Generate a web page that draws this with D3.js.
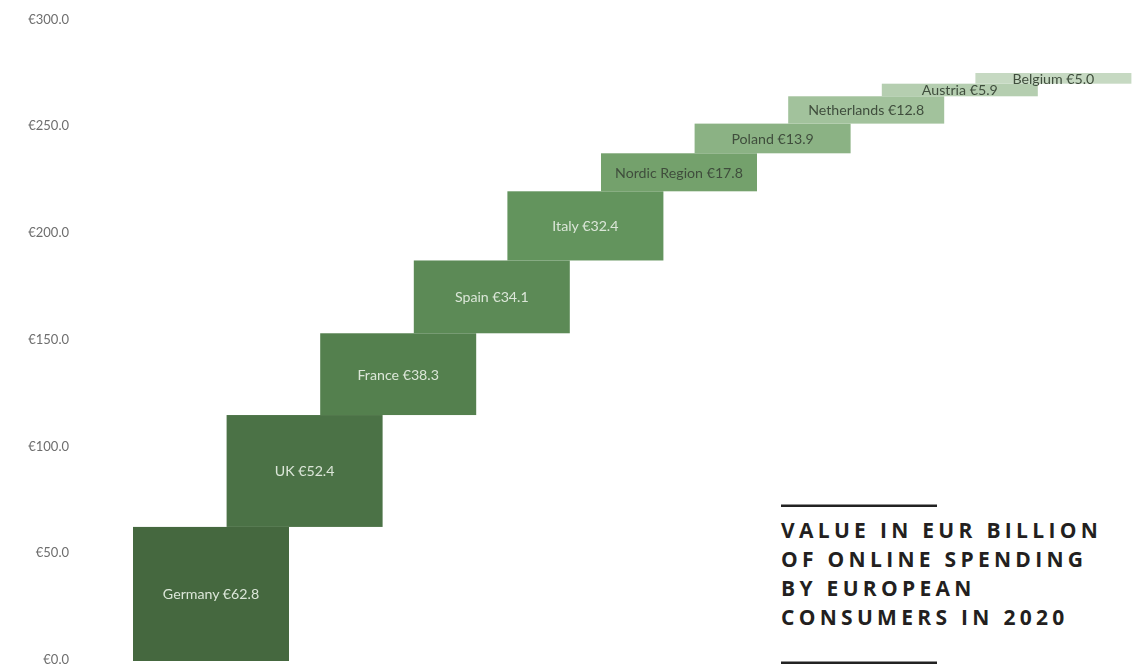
<!DOCTYPE html>
<html>
<head>
<meta charset="utf-8">
<script src="https://cdn.jsdelivr.net/npm/d3@7"></script>
<style>
  html, body { margin: 0; padding: 0; background: #ffffff; }
  svg { display: block; }
</style>
</head>
<body>
<svg id="chart" width="1135" height="668"></svg>
<script>
// Online spending by European consumers in 2020, EUR billion
const countries = ["Germany", "UK", "France", "Spain", "Italy", "Nordic Region", "Poland", "Netherlands", "Austria", "Belgium"];
const values = [62.8, 52.4, 38.3, 34.1, 32.4, 17.8, 13.9, 12.8, 5.9, 5.0];
const barColors = ["#45683f", "#4b7246", "#54804e", "#5c8a56", "#63945d", "#74a16c", "#8bb284", "#a2c29c", "#b5ceb0", "#c6d9c2"];
const labelColors = ["#dbe6d8", "#dbe6d8", "#dbe6d8", "#dbe6d8", "#dbe6d8", "#3f4d3c", "#3f4d3c", "#3f4d3c", "#3f4d3c", "#3f4d3c"];
const yTicks = [0, 50, 100, 150, 200, 250, 300];
const titleLines = ["VALUE IN EUR BILLION", "OF ONLINE SPENDING", "BY EUROPEAN", "CONSUMERS IN 2020"];

const svg = d3.select("#chart");

// Slight softening for the chart labels
svg.append("defs").append("filter")
  .attr("id", "soft")
  .append("feGaussianBlur")
  .attr("stdDeviation", 0.35);

// Waterfall: each bar starts where the previous one ended
const ends = Array.from(d3.cumsum(values));
const starts = ends.map((e, i) => e - values[i]);
const rows = countries.map((c, i) => ({ country: c, value: values[i], start: starts[i], end: ends[i], i }));

const y = d3.scaleLinear().domain([0, 300]).range([661, 20.5]);
const x = d3.scalePoint().domain(countries).range([133, 975.4]);
const barWidth = 156;

// Y axis: labels only, no line or ticks
const yAxis = d3.axisLeft(y)
  .tickValues(yTicks)
  .tickSize(0)
  .tickPadding(0)
  .tickFormat(d => "€" + d3.format(".1f")(d));

svg.append("g")
  .attr("transform", "translate(69,-1.5)")
  .attr("filter", "url(#soft)")
  .call(yAxis)
  .call(g => g.select(".domain").remove())
  .call(g => g.selectAll("text")
    .attr("font-family", "Lato, 'Open Sans', sans-serif")
    .attr("font-size", 13)
    .attr("fill", "#6e6e6e"));

const bars = svg.append("g");

bars.selectAll("rect")
  .data(rows)
  .join("rect")
  .attr("x", d => x(d.country))
  .attr("y", d => y(d.end))
  .attr("width", barWidth)
  .attr("height", d => y(d.start) - y(d.end))
  .attr("fill", d => barColors[d.i]);

bars.append("g")
  .attr("filter", "url(#soft)")
  .selectAll("text")
  .data(rows)
  .join("text")
  .attr("x", d => x(d.country) + barWidth / 2)
  .attr("y", d => (y(d.start) + y(d.end)) / 2)
  .attr("text-anchor", "middle")
  .attr("dominant-baseline", "central")
  .attr("font-family", "Lato, 'Open Sans', sans-serif")
  .attr("font-size", 14.2)
  .attr("fill", d => labelColors[d.i])
  .text(d => `${d.country} €${d3.format(".1f")(d.value)}`);

// Title block with rules above and below
const title = svg.append("g").attr("transform", "translate(781,0)");

title.append("rect").attr("x", 0).attr("y", 504.5).attr("width", 156).attr("height", 2.5).attr("fill", "#222222");
title.append("rect").attr("x", 0).attr("y", 661.5).attr("width", 156).attr("height", 2.5).attr("fill", "#222222");

title.selectAll("text")
  .data(titleLines)
  .join("text")
  .attr("x", 0)
  .attr("y", (d, i) => 538 + i * 29)
  .attr("font-family", "'Open Sans', Lato, sans-serif")
  .attr("font-weight", 700)
  .attr("font-size", 21)
  .attr("letter-spacing", 4.3)
  .attr("fill", "#231f20")
  .text(d => d);
</script>
</body>
</html>
